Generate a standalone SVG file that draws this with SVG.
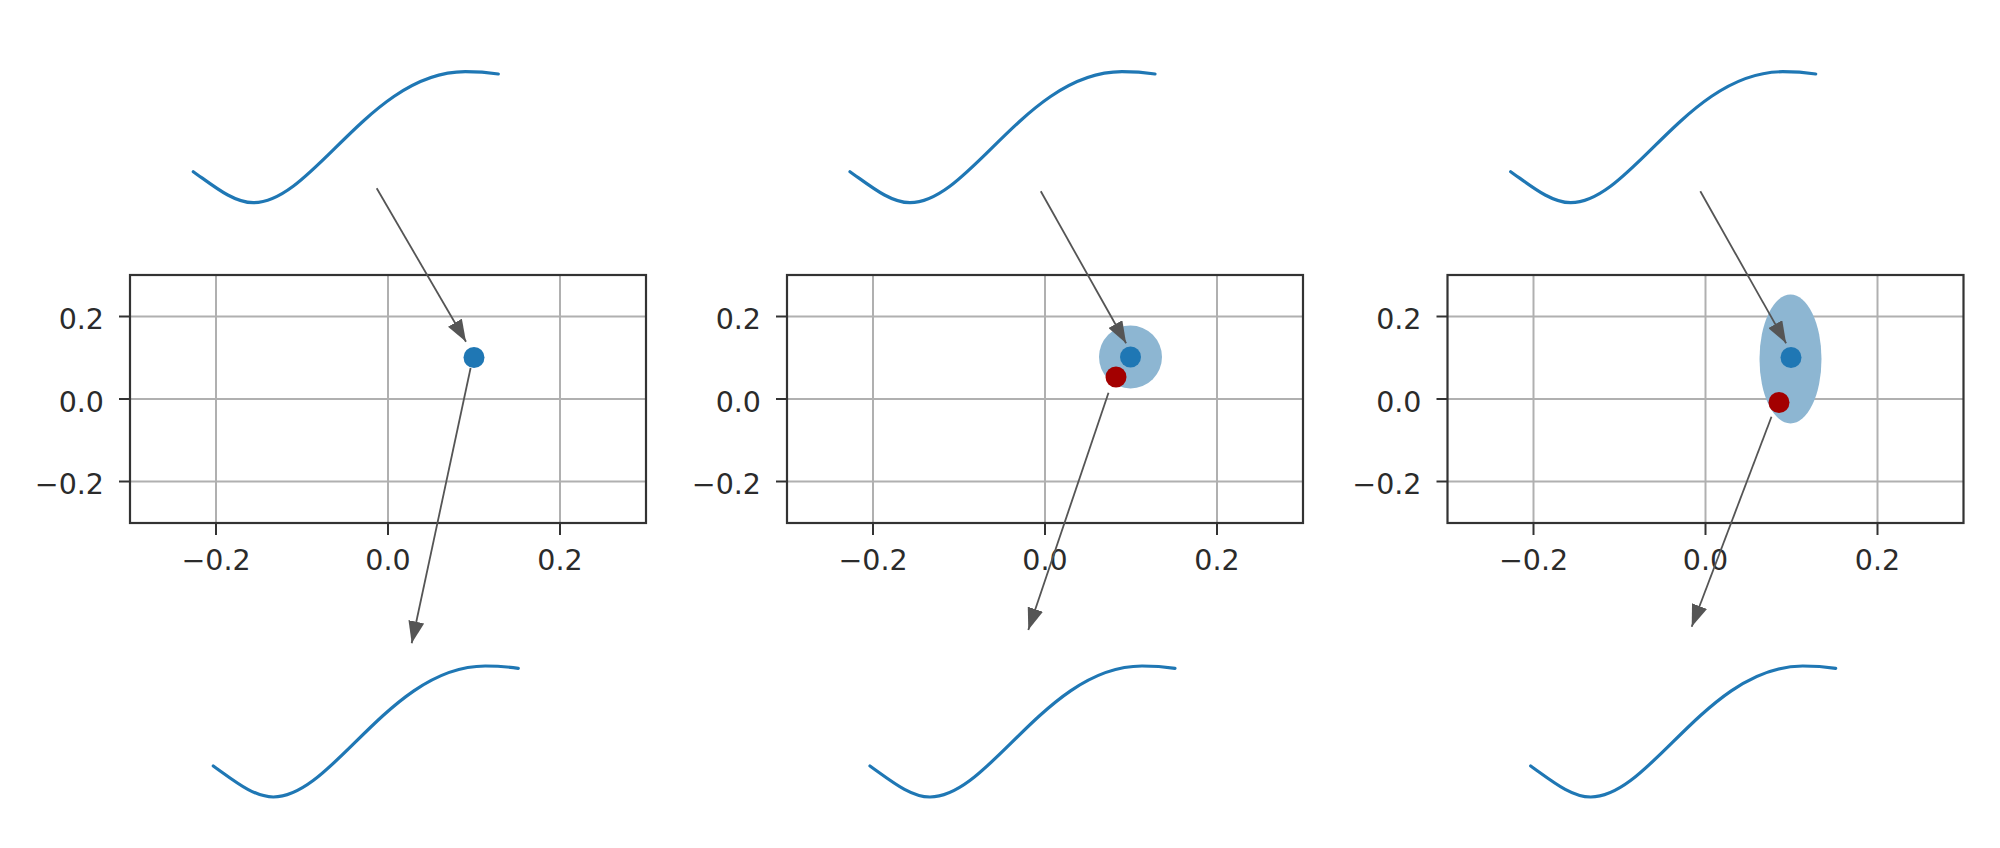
<svg xmlns="http://www.w3.org/2000/svg" xmlns:xlink="http://www.w3.org/1999/xlink" width="2000" height="848" viewBox="0 0 2000 848">
<style>
.grid{stroke:#b0b0b0;stroke-width:2;fill:none}
.frame{stroke:#333;stroke-width:2.2;fill:none}
.tick{stroke:#333;stroke-width:2}
.lbl{font-family:"DejaVu Sans","Liberation Sans",sans-serif;font-size:28.5px;fill:#2b2b2b}
.ye{text-anchor:end}
.xm{text-anchor:middle}
.curve{stroke:#1f77b4;stroke-width:3.2;fill:none;stroke-linecap:round}
.mean{fill:#1f77b4}
.samp{fill:#a30000}
.cov{fill:#8db6d2}
.conn{stroke:#555;stroke-width:1.8;fill:none;marker-end:url(#head)}
</style>
<defs>
<marker id="head" viewBox="0 0 22 16" markerUnits="userSpaceOnUse" markerWidth="22" markerHeight="16" refX="22" refY="8" orient="auto">
<path d="M0,0 L22,8 L0,16 z" fill="#555"/>
</marker>
<path id="sine" class="curve" d="M0,0 C20,14 40,31 60,31 C120,31 177,-100 272,-100 C285,-100 296,-99 305,-97.7"/>
<g id="axes">
<line class="grid" x1="-172" y1="275" x2="-172" y2="523"/>
<line class="grid" x1="0" y1="275" x2="0" y2="523"/>
<line class="grid" x1="172" y1="275" x2="172" y2="523"/>
<line class="grid" x1="-258" y1="316.5" x2="258" y2="316.5"/>
<line class="grid" x1="-258" y1="399" x2="258" y2="399"/>
<line class="grid" x1="-258" y1="481.5" x2="258" y2="481.5"/>
<rect class="frame" x="-258" y="275" width="516" height="248"/>
<line class="tick" x1="-269" y1="316.5" x2="-258" y2="316.5"/>
<line class="tick" x1="-269" y1="399" x2="-258" y2="399"/>
<line class="tick" x1="-269" y1="481.5" x2="-258" y2="481.5"/>
<line class="tick" x1="-172" y1="523" x2="-172" y2="535"/>
<line class="tick" x1="0" y1="523" x2="0" y2="535"/>
<line class="tick" x1="172" y1="523" x2="172" y2="535"/>
<text class="lbl ye" x="-284" y="329">0.2</text>
<text class="lbl ye" x="-284" y="411.5">0.0</text>
<text class="lbl ye" x="-284" y="494">−0.2</text>
<text class="lbl xm" x="-172" y="570">−0.2</text>
<text class="lbl xm" x="0" y="570">0.0</text>
<text class="lbl xm" x="172" y="570">0.2</text>
</g>
</defs>

<g id="panel1">
<use href="#axes" xlink:href="#axes" transform="translate(388,0)"/>
<circle class="mean" cx="474" cy="357.5" r="10.5"/>
</g>
<g id="panel2">
<use href="#axes" xlink:href="#axes" transform="translate(1045,0)"/>
<circle class="cov" cx="1130.5" cy="357" r="31.5"/>
<circle class="mean" cx="1130.5" cy="357" r="10.5"/>
<circle class="samp" cx="1116" cy="377" r="10.5"/>
</g>
<g id="panel3">
<use href="#axes" xlink:href="#axes" transform="translate(1705.5,0)"/>
<ellipse class="cov" cx="1790.5" cy="359" rx="31" ry="64.5"/>
<circle class="mean" cx="1791" cy="357.5" r="10.5"/>
<circle class="samp" cx="1779" cy="402.5" r="10.5"/>
</g>

<g id="curves-top">
<use href="#sine" xlink:href="#sine" x="193.3" y="171.7"/>
<use href="#sine" xlink:href="#sine" x="850" y="171.7"/>
<use href="#sine" xlink:href="#sine" x="1510.7" y="171.7"/>
</g>
<g id="curves-bottom">
<use href="#sine" xlink:href="#sine" x="213.3" y="766"/>
<use href="#sine" xlink:href="#sine" x="870" y="766"/>
<use href="#sine" xlink:href="#sine" x="1530.7" y="766"/>
</g>

<g id="connectors">
<line class="conn" x1="376.7" y1="188.3" x2="466" y2="341.7"/>
<line class="conn" x1="470.6" y1="368" x2="411.7" y2="643.3"/>
<line class="conn" x1="1040.8" y1="191.3" x2="1126.1" y2="343.3"/>
<line class="conn" x1="1108.5" y1="392.7" x2="1028.3" y2="630"/>
<line class="conn" x1="1700.3" y1="191.3" x2="1786.1" y2="343.3"/>
<line class="conn" x1="1771.5" y1="416.7" x2="1691.7" y2="626.7"/>
</g>
</svg>
